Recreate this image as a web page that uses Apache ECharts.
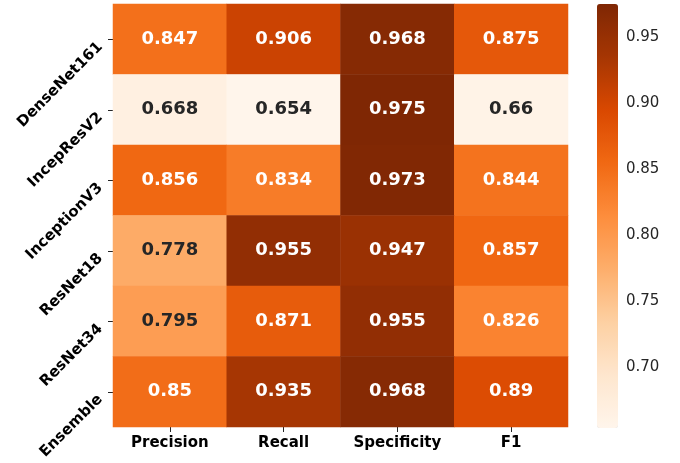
<!DOCTYPE html>
<html>
<head>
<meta charset="utf-8">
<script src="https://cdn.jsdelivr.net/npm/echarts@6/dist/echarts.min.js"></script>
<style>html,body{margin:0;padding:0;background:#fff}#c{width:680px;height:463px}</style>
</head>
<body>
<div id="c"></div>
<script>
const metrics = ['Precision', 'Recall', 'Specificity', 'F1'];
const models = ['DenseNet161', 'IncepResV2', 'InceptionV3', 'ResNet18', 'ResNet34', 'Ensemble'];
const densenet161 = [0.847, 0.906, 0.968, 0.875];
const incepResV2 = [0.668, 0.654, 0.975, 0.66];
const inceptionV3 = [0.856, 0.834, 0.973, 0.844];
const resnet18 = [0.778, 0.955, 0.947, 0.857];
const resnet34 = [0.795, 0.871, 0.955, 0.826];
const ensemble = [0.85, 0.935, 0.968, 0.89];
const colorbarTicks = [0.70, 0.75, 0.80, 0.85, 0.90, 0.95];
const vMin = 0.654, vMax = 0.975;

const rows = [densenet161, incepResV2, inceptionV3, resnet18, resnet34, ensemble];
const data = [];
rows.forEach((r, yi) => r.forEach((v, xi) => {
  data.push({value: [xi, yi, v], label: {color: v < 0.81 ? '#262626' : '#ffffff'}});
}));

const font = 'DejaVu Sans';
const chart = echarts.init(document.getElementById('c'), null, {renderer: 'canvas'});
chart.setOption({
  animation: false,
  backgroundColor: '#fff',
  grid: [
    {left: 113, top: 4, width: 455, height: 423},
    {left: 597, top: 4, width: 21, height: 424}
  ],
  xAxis: [
    {type: 'category', data: metrics, gridIndex: 0, position: 'bottom',
     axisLine: {show: false}, splitLine: {show: false},
     axisTick: {show: true, alignWithLabel: true, interval: 0, length: 5, lineStyle: {color: '#262626', width: 1}},
     axisLabel: {interval: 0, fontFamily: font, fontWeight: 'bold', fontSize: 15, color: '#000', margin: 9}},
    {type: 'value', gridIndex: 1, show: false, min: 0, max: 1}
  ],
  yAxis: [
    {type: 'category', data: models, gridIndex: 0, inverse: true,
     axisLine: {show: false}, splitLine: {show: false},
     axisTick: {show: true, alignWithLabel: true, interval: 0, length: 5, lineStyle: {color: '#262626', width: 1}},
     axisLabel: {interval: 0, fontFamily: font, fontWeight: 'bold', fontSize: 15, color: '#000', rotate: 45,
       margin: 18, align: 'right', verticalAlign: 'top'}},
    {type: 'value', gridIndex: 1, position: 'right', min: vMin, max: vMax,
     axisLine: {show: false}, splitLine: {show: false},
     axisTick: {show: true, length: 5, customValues: colorbarTicks, lineStyle: {color: '#262626', width: 1}},
     axisLabel: {fontFamily: font, fontSize: 15, color: '#262626', margin: 8, customValues: colorbarTicks,
       formatter: v => v.toFixed(2)}}
  ],
  visualMap: {
    type: 'continuous', seriesIndex: 0, min: vMin, max: vMax,
    calculable: false, orient: 'vertical', left: 597, top: 4, padding: 0,
    itemWidth: 21, itemHeight: 424, text: null, showLabel: false, hoverLink: false,
    inRange: {color: ['#fff5eb', '#fee6ce', '#fdd0a2', '#fdae6b', '#fd8d3c', '#f16913', '#d94801', '#a63603', '#7f2704']}
  },
  series: [{
    type: 'heatmap', xAxisIndex: 0, yAxisIndex: 0, data: data,
    label: {show: true, fontFamily: font, fontWeight: 'bold', fontSize: 18,
      formatter: p => String(p.value[2])},
    itemStyle: {borderWidth: 0},
    emphasis: {disabled: true}
  }]
});
</script>
</body>
</html>
